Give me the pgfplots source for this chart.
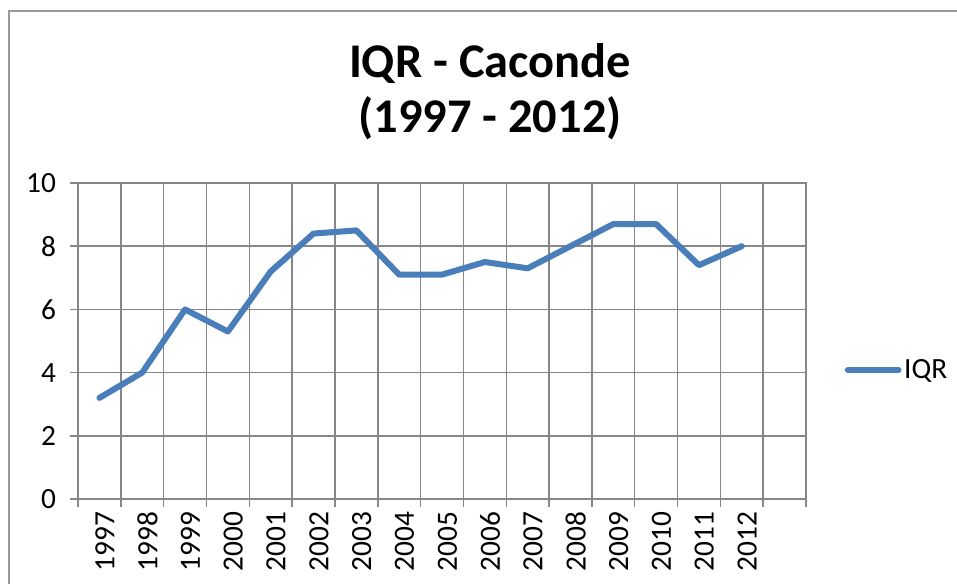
\documentclass[border=0pt]{standalone}
\usepackage{fontspec}
\setmainfont{Carlito}
\usepackage{pgfplots}
\pgfplotsset{compat=1.18}
\definecolor{gridgray}{HTML}{878787}
\definecolor{xlblue}{HTML}{4A7EBB}

\begin{document}
\begin{tikzpicture}
  % page = 957 x 583 px, 1 px = 0.75 pt
  \path[use as bounding box] (0,0) rectangle (717.75pt,-437.25pt);
  \draw[gridgray!85, line width=1.5pt] (6.75pt,-500pt) -- (6.75pt,-8.25pt) -- (800pt,-8.25pt);

  \node[anchor=base, font=\fontsize{36.3}{42}\selectfont\bfseries] at (367.5pt,-57.75pt) {IQR - Caconde};
  \node[anchor=base, font=\fontsize{36.3}{42}\selectfont\bfseries] at (367.5pt,-99pt) {(1997 - 2012)};

  \begin{axis}[
    at={(58.5pt,-374.25pt)}, anchor=south west,
    scale only axis, width=546pt, height=237pt,
    xmin=0, xmax=17, ymin=0, ymax=10,
    ytick={0,2,...,10},
    xtick={0.5,1.5,...,15.5},
    xticklabels={1997,1998,1999,2000,2001,2002,2003,2004,2005,2006,2007,2008,2009,2010,2011,2012},
    minor xtick={0,1,...,17},
    xminorgrids=true, ymajorgrids=true,
    major x tick style={draw=none},
    tick align=outside,
    minor tick length=6pt, major tick length=6pt,
    tick style={gridgray, line width=1.1pt},
    grid style={gridgray, line width=1.1pt},
    minor grid style={gridgray, line width=1.1pt},
    axis line style={gridgray, line width=1.1pt},
    xtick pos=bottom, ytick pos=left,
    ticklabel style={font=\fontsize{22}{26}\selectfont, text=black},
    xticklabel style={rotate=90, anchor=east, yshift=-4pt},
    yticklabel style={xshift=-7pt},
    /pgf/number format/assume math mode=true,
    legend style={at={(1.053,0.408)}, anchor=west, draw=none, fill=none,
      font=\fontsize{22}{26}\selectfont, inner sep=0pt, row sep=0pt},
    legend cell align=left,
    legend image code/.code={\draw[#1, line cap=round] (0pt,0pt) -- (38pt,0pt);},
  ]
    \addplot[xlblue, line width=4.5pt, line join=round, line cap=round] coordinates {
      (0.5,3.2) (1.5,4.0) (2.5,6.0) (3.5,5.3) (4.5,7.2) (5.5,8.4) (6.5,8.5) (7.5,7.1)
      (8.5,7.1) (9.5,7.5) (10.5,7.3) (11.5,8.0) (12.5,8.7) (13.5,8.7) (14.5,7.4) (15.5,8.0)
    };
    \addlegendentry{IQR}
  \end{axis}
\end{tikzpicture}
\end{document}
